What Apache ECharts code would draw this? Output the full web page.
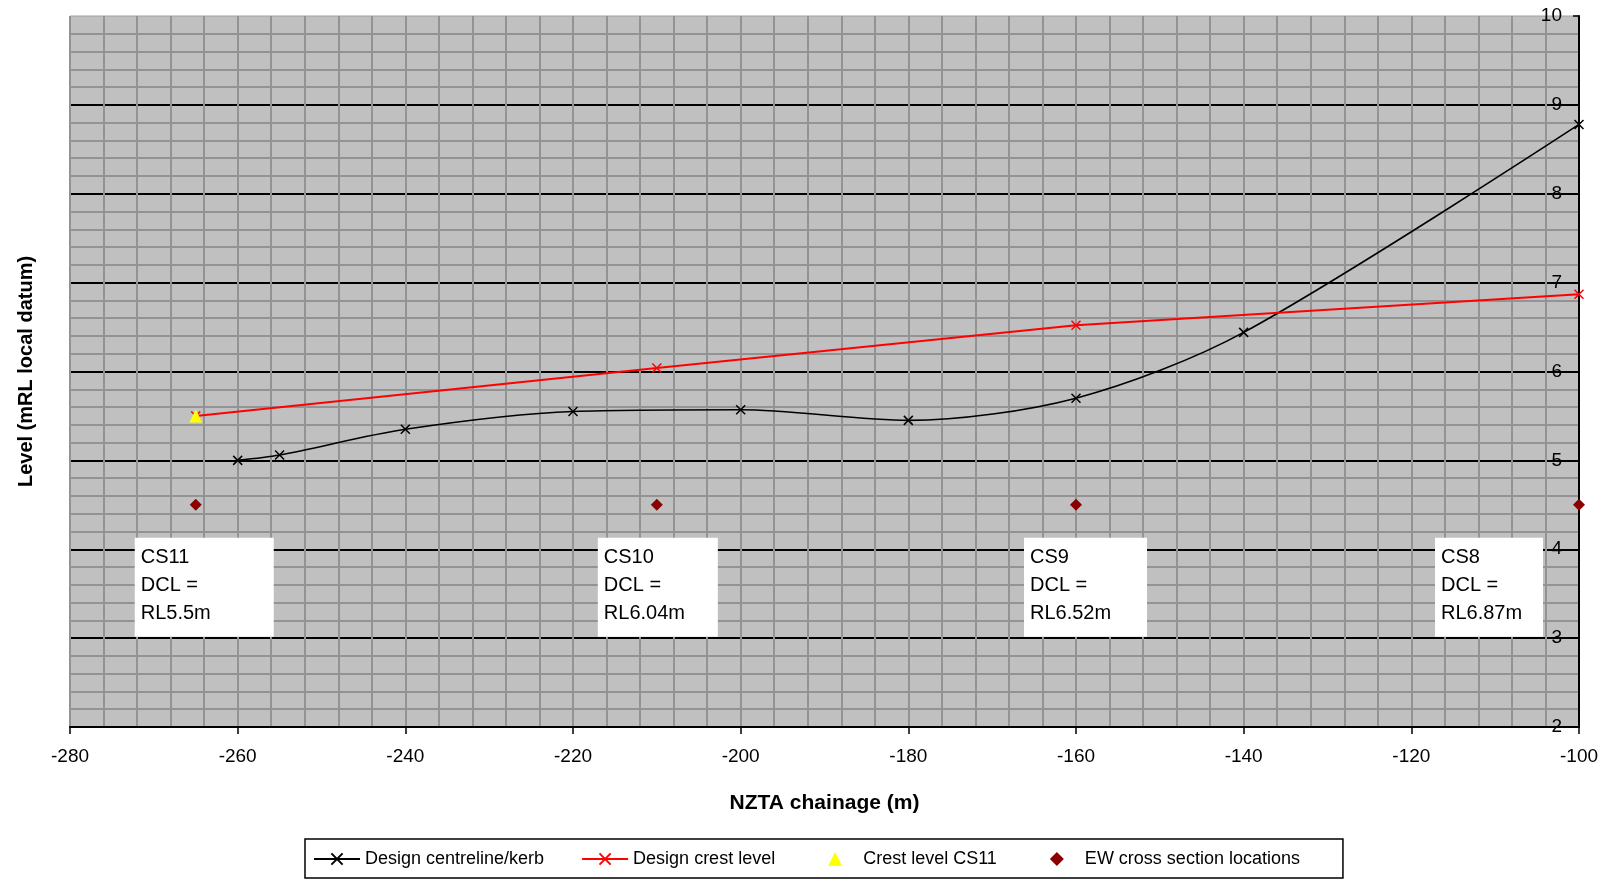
<!DOCTYPE html>
<html>
<head>
<meta charset="utf-8">
<script src="https://cdn.jsdelivr.net/npm/echarts@6/dist/echarts.min.js"></script>
<style>
  html, body { margin: 0; padding: 0; background: #fff; }
  #levelChart { width: 1608px; height: 881px; }
</style>
</head>
<body>
<div id="levelChart"></div>
<script>
  // chainage (m) and level (mRL)
  var centreX = [-260, -255, -240, -220, -200, -180, -160, -140, -100];
  var centreY = [5.0, 5.06, 5.35, 5.55, 5.57, 5.45, 5.70, 6.44, 8.78];

  var crestX = [-265, -210, -160, -100];
  var crestY = [5.5, 6.04, 6.52, 6.87];

  var cs11X = [-265];
  var cs11Y = [5.5];

  var sectionX = [-265, -210, -160, -100];
  var sectionY = [4.5, 4.5, 4.5, 4.5];
  var sectionNames = ['CS11', 'CS10', 'CS9', 'CS8'];
  var sectionDcl = ['5.5', '6.04', '6.52', '6.87'];

  var font = '"Liberation Sans", Arial, sans-serif';
  var xMark = 'path://M0,0L10,10M10,0L0,10';
  // legend icons padded out to the 46x14 legend box so they keep their shape
  var triIcon = 'path://M0,0M46,14M23,0L30,14L16,14Z';
  var diaIcon = 'path://M0,0M46,14M23,0L30,7L23,14L16,7Z';

  function pairs(xs, ys) {
    return xs.map(function (x, i) { return [x, ys[i]]; });
  }

  // label box placement (px, relative to the section marker)
  var boxStyle = [
    { dx: -61, dy: 33, w: 125 },
    { dx: -59, dy: 33, w: 106 },
    { dx: -52, dy: 33, w: 109 },
    { dx: -144, dy: 33, w: 94 }
  ];

  var noteData = sectionX.map(function (x, i) {
    return {
      value: [x, sectionY[i]],
      name: sectionNames[i],
      label: {
        position: [boxStyle[i].dx, boxStyle[i].dy],
        width: boxStyle[i].w
      }
    };
  });

  var chart = echarts.init(document.getElementById('levelChart'));

  var option = {
    animation: false,
    textStyle: { fontFamily: font },
    grid: {
      left: 70,
      right: 29,
      top: 16,
      bottom: 154,
      show: true,
      backgroundColor: '#c0c0c0',
      borderColor: '#a0a0a0',
      borderWidth: 1
    },
    legend: {
      left: 305,
      top: 839,
      padding: [11, 43, 10, 8],
      itemGap: 37,
      itemWidth: 46,
      itemHeight: 14,
      borderColor: '#000',
      borderWidth: 1.5,
      textStyle: { fontFamily: font, fontSize: 18, color: '#000' },
      data: [
        { name: 'Design centreline/kerb' },
        { name: 'Design crest level' },
        { name: 'Crest level CS11', icon: triIcon },
        { name: 'EW cross section locations', icon: diaIcon }
      ]
    },
    xAxis: {
      type: 'value',
      min: -280,
      max: -100,
      interval: 20,
      name: 'NZTA chainage (m)',
      nameLocation: 'middle',
      nameGap: 66,
      nameTextStyle: { fontFamily: font, fontSize: 21, fontWeight: 'bold', color: '#000' },
      axisLine: { onZero: false, lineStyle: { color: '#000', width: 2 } },
      axisTick: { show: true, length: 7, lineStyle: { color: '#000', width: 1.5 } },
      axisLabel: { color: '#000', fontSize: 19, margin: 20 },
      splitLine: { show: true, lineStyle: { color: '#939393', width: 2 } },
      minorTick: { show: false, splitNumber: 5 },
      minorSplitLine: { show: true, lineStyle: { color: '#939393', width: 2 } }
    },
    yAxis: [{
      type: 'value',
      position: 'right',
      min: 2,
      max: 10,
      interval: 1,
      axisLine: { show: true, onZero: false, lineStyle: { color: '#000', width: 2 } },
      axisTick: { show: true, inside: true, length: 6, lineStyle: { color: '#000', width: 1.5 } },
      axisLabel: { inside: true, margin: 17, color: '#000', fontSize: 19 },
      splitLine: { show: true, showMaxLine: false, lineStyle: { color: '#000', width: 2 } },
      minorTick: { show: false, splitNumber: 5 },
      minorSplitLine: { show: true, lineStyle: { color: '#939393', width: 2 } }
    }, {
      type: 'value',
      position: 'left',
      min: 2,
      max: 10,
      name: 'Level (mRL local datum)',
      nameLocation: 'middle',
      nameGap: 34,
      nameTextStyle: { fontFamily: font, fontSize: 20, fontWeight: 'bold', color: '#000' },
      axisLine: { show: false },
      axisTick: { show: false },
      axisLabel: { show: false },
      splitLine: { show: false }
    }],
    series: [{
      name: 'Design centreline/kerb',
      type: 'line',
      smooth: 0.3,
      data: pairs(centreX, centreY),
      symbol: xMark,
      symbolSize: 9,
      lineStyle: { color: '#000', width: 1.6 },
      itemStyle: { color: '#000', borderColor: '#000', borderWidth: 1.5 },
      z: 3
    }, {
      name: 'Design crest level',
      type: 'line',
      data: pairs(crestX, crestY),
      symbol: xMark,
      symbolSize: 9,
      lineStyle: { color: '#ff0000', width: 2 },
      itemStyle: { color: '#ff0000', borderColor: '#ff0000', borderWidth: 1.5 },
      z: 3
    }, {
      name: 'Crest level CS11',
      type: 'scatter',
      data: pairs(cs11X, cs11Y),
      symbol: 'triangle',
      symbolSize: 13,
      itemStyle: { color: '#ffff00', opacity: 1 },
      z: 4
    }, {
      name: 'EW cross section locations',
      type: 'scatter',
      data: pairs(sectionX, sectionY),
      symbol: 'diamond',
      symbolSize: 12,
      itemStyle: { color: '#8b0000', opacity: 1 },
      z: 4
    }, {
      name: 'notes',
      type: 'scatter',
      data: noteData,
      symbolSize: 0,
      silent: true,
      itemStyle: { opacity: 1 },
      z: 5,
      label: {
        show: true,
        opacity: 1,
        align: 'left',
        verticalAlign: 'top',
        backgroundColor: '#ffffff',
        padding: [6, 8, 9, 6],
        color: '#000',
        fontFamily: font,
        fontSize: 20,
        lineHeight: 28,
        formatter: function (p) {
          return sectionNames[p.dataIndex] + '\nDCL =\nRL' + sectionDcl[p.dataIndex] + 'm';
        }
      }
    }]
  };

  chart.setOption(option);
</script>
</body>
</html>
